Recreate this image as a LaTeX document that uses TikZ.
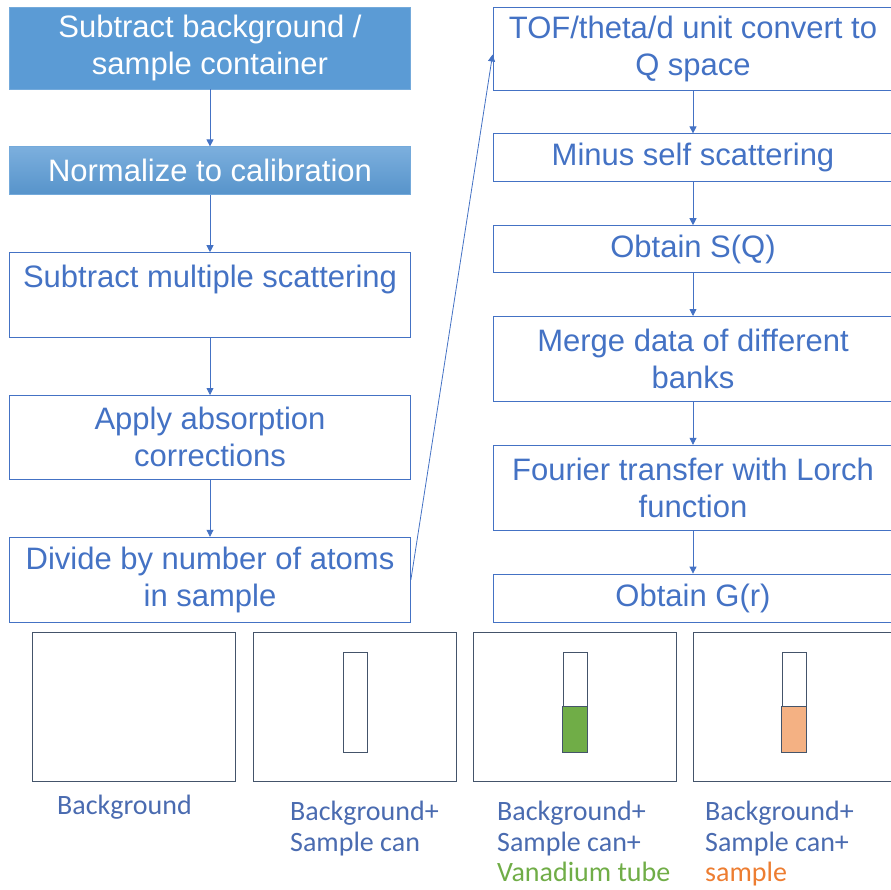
\documentclass[tikz,border=0pt]{standalone}
\usepackage{fontspec}
\setmainfont{Liberation Sans}
\newfontfamily\capfont{Carlito}
\usetikzlibrary{arrows.meta,positioning}
\definecolor{acc}{HTML}{4472C4}
\definecolor{fillb}{HTML}{5B9BD5}
\definecolor{panel}{HTML}{44546A}
\definecolor{vgreen}{HTML}{70AD47}
\definecolor{sorange}{HTML}{F4B183}
\definecolor{lorange}{HTML}{ED7D31}
\definecolor{capb}{HTML}{4A6BB0}
\tikzset{
  >={Triangle[length=7pt,width=7pt]},
  stepbox/.style={draw=acc,line width=0.8pt,minimum width=401pt,inner sep=0pt,align=center,text=acc,font=\fontsize{31}{37}\selectfont},
  hbox/.style={stepbox,draw=fillb!85,fill=fillb,text=white},
  arr/.style={->,draw=acc,line width=0.8pt},
  panelbox/.style={draw=panel,line width=0.8pt,minimum width=203pt,minimum height=149pt,inner sep=0pt},
  tube/.style={draw=panel,line width=0.8pt,minimum width=24pt,minimum height=100pt,inner sep=0pt},
  caplab/.style={font=\capfont\fontsize{28}{30.5}\selectfont,text=capb,align=left,anchor=north west,inner sep=0pt},
}
\begin{document}
\begin{tikzpicture}[x=1pt,y=-1pt,node distance=57pt]
\useasboundingbox (0,0) rectangle (891,889);
% left column
\node[hbox,minimum height=82pt] (b1) at (210,48) {Subtract background /\\sample container};
\node[hbox,minimum height=48pt,below=of b1,top color=fillb!80,bottom color=fillb!95!black] (b2) {Normalize to calibration};
\node[stepbox,minimum height=85pt,below=of b2] (b3) {Subtract multiple scattering\\\mbox{}};
\node[stepbox,minimum height=84pt,below=of b3] (b4) {Apply absorption\\corrections};
\node[stepbox,minimum height=85pt,below=of b4] (b5) {Divide by number of atoms\\in sample};
\foreach \u/\v in {b1/b2,b2/b3,b3/b4,b4/b5} \draw[arr] (\u)--(\v);
% right column
\begin{scope}[node distance=43pt,stepbox/.append style={minimum width=400pt}]
\node[stepbox,minimum height=83pt] (r1) at (693,48.5) {TOF/theta/d unit convert to\\Q space};
\node[stepbox,minimum height=48pt,below=of r1] (r2) {Minus self scattering};
\node[stepbox,minimum height=47pt,below=of r2] (r3) {Obtain S(Q)};
\node[stepbox,minimum height=85pt,below=of r3] (r4) {Merge data of different\\banks};
\node[stepbox,minimum height=85pt,below=of r4] (r5) {Fourier transfer with Lorch\\function};
\node[stepbox,minimum height=48pt,below=of r5] (r6) {Obtain G(r)};
\end{scope}
\foreach \u/\v in {r1/r2,r2/r3,r3/r4,r4/r5,r5/r6} \draw[arr] (\u)--(\v);
\draw[arr] (b5.east) -- ([yshift=-6pt]r1.west);
% sample panels
\node[panelbox] (p1) at (134,707) {};
\node[panelbox] (p2) at (355,707) {};
\node[panelbox] (p3) at (575,707) {};
\node[panelbox] (p4) at (795,707) {};
\node[tube] (t2) at (355,702) {};
\node[tube] (t3) at (575,702) {};
\node[tube] (t4) at (794,702) {};
\fill[vgreen] (t3.south west) rectangle ([yshift=46pt]t3.south east);
\draw[panel,line width=0.8pt] (t3.south west) rectangle ([yshift=46pt]t3.south east);
\fill[sorange] (t4.south west) rectangle ([yshift=46pt]t4.south east);
\draw[panel,line width=0.8pt] (t4.south west) rectangle ([yshift=46pt]t4.south east);
\node[caplab] (c1) at (57,795) {Background};
\node[caplab] (c2) at (290,801) {Background+\\Sample can};
\node[caplab] (c3) at (497,801) {Background+\\Sample can+\\\textcolor{vgreen}{Vanadium tube}};
\node[caplab] (c4) at (705,801) {Background+\\Sample can+\\\textcolor{lorange}{sample}};
\end{tikzpicture}
\end{document}
